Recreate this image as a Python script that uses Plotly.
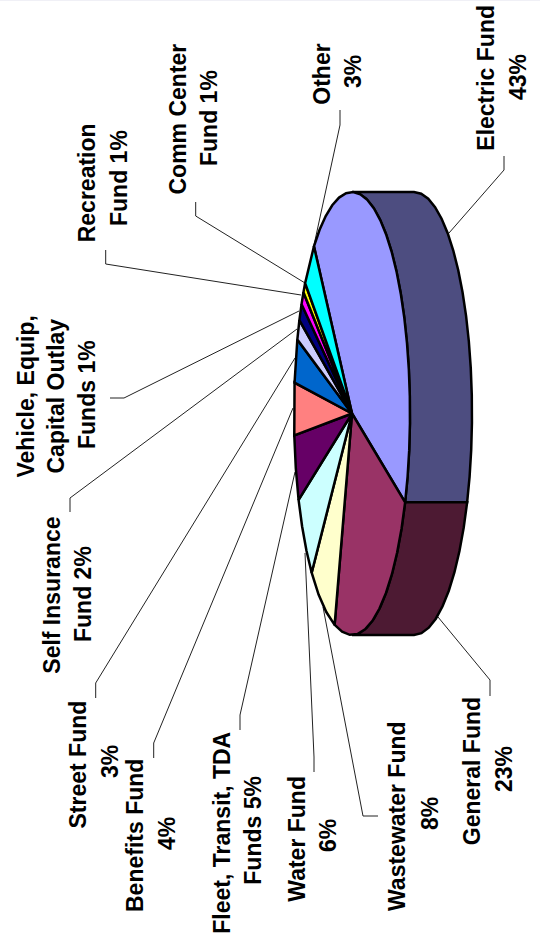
import numpy as np
import plotly.graph_objects as go

# ---- data (in drawing order, clockwise from Electric)
funds = ["Electric Fund", "General Fund", "Wastewater Fund", "Water Fund",
         "Fleet, Transit, TDA Funds", "Benefits Fund", "Street Fund",
         "Self Insurance Fund", "Vehicle, Equip, Capital Outlay Funds",
         "Recreation Fund", "Comm Center Fund", "Other"]
shares = [43.0, 23.3, 7.4, 6.4, 4.8, 3.8, 3.2, 1.5, 1.3, 1.0, 0.8, 3.6]
label_lines = [
    ["Electric Fund", "43%"],
    ["General Fund", "23%"],
    ["Wastewater Fund", "8%"],
    ["Water Fund", "6%"],
    ["Fleet, Transit, TDA", "Funds 5%"],
    ["Benefits Fund", "4%"],
    ["Street Fund", "3%"],
    ["Self Insurance", "Fund 2%"],
    ["Vehicle, Equip,", "Capital Outlay", "Funds 1%"],
    ["Recreation", "Fund 1%"],
    ["Comm Center", "Fund 1%"],
    ["Other", "3%"],
]

# ---- styles and layout
top_colors = ["#9999FF", "#993366", "#FFFFCC", "#CCFFFF", "#660066", "#FF8080",
              "#0066CC", "#CCCCFF", "#000080", "#FF00FF", "#FFFF00", "#00FFFF"]
side_colors = ["#4D4D80", "#4D1A33"]
CX, CY, RX, RY, DEPTH = 352, 413.5, 58, 221.5, 62
START_DEG = -131
STEP_DEG = 7
FONT_SIZE = 23
EDGE_WIDTH = 2.5

# line positions of each label: x of every text line, and its y centre
label_x = [[485.7, 518], [471.7, 504], [397, 430], [296.7, 328], [221.7, 253],
           [135, 167], [77, 110], [51.7, 83], [25, 55, 87], [87.3, 119],
           [177, 209], [321.7, 353]]
label_y = [[78, 77], [771.5, 769], [816, 814], [839, 836], [833, 830.7], [836, 834],
           [764.5, 762], [595, 594], [396.5, 396.5, 395], [183, 178], [119.5, 118], [74, 72]]
leaders = [
    [(504, 156), (504, 170), (449, 233)],
    [(490, 696), (490, 680), (438, 617)],
    [(378, 816), (363, 816), (323, 607)],
    [(314, 772), (314, 757), (305, 553)],
    [(240, 730), (240, 715), (295, 472)],
    [(153.7, 758), (153.7, 743), (293, 408)],
    [(95.7, 698), (95.7, 683), (295, 358)],
    [(70, 512), (70, 498), (297, 329)],
    [(110, 398), (124, 398), (299, 311)],
    [(105.7, 250), (105.7, 264), (301, 295)],
    [(195.7, 202), (195.7, 216), (305, 283)],
    [(340, 110), (340, 125), (314, 245)],
]


def arc(a0, a1):
    n = max(int(abs(a1 - a0) // STEP_DEG), 1)
    t = np.radians(np.linspace(a0, a1, n + 1))
    return CX + RX * np.cos(t), CY + RY * np.sin(t)


values = np.array(shares)
edges = START_DEG + np.concatenate([[0], np.cumsum(values)]) * 360 / values.sum()

fig = go.Figure()

# side walls: only the rim between -90 and +90 degrees faces the viewer's right
for i in range(2):
    a0, a1 = max(edges[i], -90), min(edges[i + 1], 90)
    x, y = arc(a0, a1)
    fig.add_trace(go.Scatter(
        x=np.concatenate([x, x[::-1] + DEPTH, x[:1]]),
        y=np.concatenate([y, y[::-1], y[:1]]),
        mode="lines", fill="toself", fillcolor=side_colors[i],
        line=dict(color="black", width=EDGE_WIDTH), hoverinfo="skip", showlegend=False))

# top face slices
for i, name in enumerate(funds):
    x, y = arc(edges[i], edges[i + 1])
    fig.add_trace(go.Scatter(
        x=np.concatenate([[CX], x, [CX]]),
        y=np.concatenate([[CY], y, [CY]]),
        mode="lines", fill="toself", fillcolor=top_colors[i], name=name,
        line=dict(color="black", width=EDGE_WIDTH), hoverinfo="name", showlegend=False))

shapes = [dict(type="path", layer="below",
               path="M " + " L ".join(f"{px},{py}" for px, py in pts),
               line=dict(color="#222222", width=1))
          for pts in leaders]
shapes.append(dict(type="line", xref="paper", yref="paper", x0=0, x1=1, y0=0.9997, y1=0.9997,
                   line=dict(color="#ECECF4", width=1), layer="below"))

annotations = []
for lines, xs, ys in zip(label_lines, label_x, label_y):
    for text, lx, ly in zip(lines, xs, ys):
        annotations.append(dict(
            x=lx, y=ly, xref="x", yref="y", text=f"<b>{text}</b>", textangle=-90,
            showarrow=False, xanchor="center", yanchor="middle",
            font=dict(family="Liberation Sans", size=FONT_SIZE, color="black")))

fig.update_layout(
    width=540, height=943, margin=dict(l=0, r=0, t=0, b=0), autosize=False,
    paper_bgcolor="white", plot_bgcolor="white", showlegend=False,
    xaxis=dict(range=[0, 540], visible=False, fixedrange=True),
    yaxis=dict(range=[943, 0], visible=False, fixedrange=True),
    shapes=shapes, annotations=annotations,
)
fig.write_html("out.html", config=dict(displayModeBar=False),
               post_script="document.body.style.margin='0';document.body.style.overflow='hidden';")
